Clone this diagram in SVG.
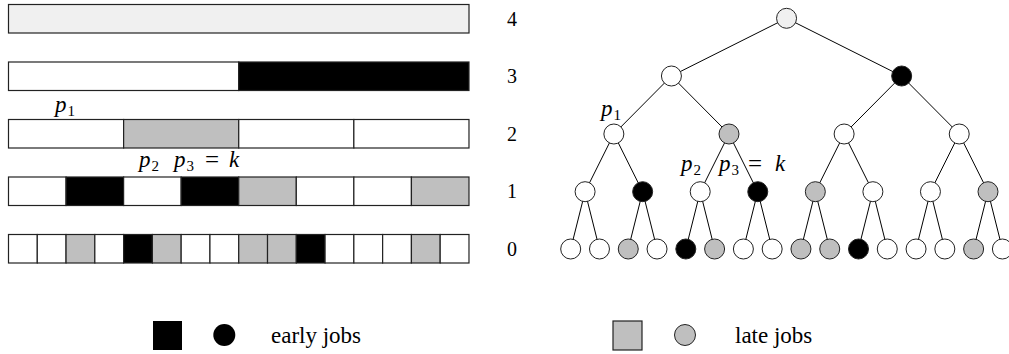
<svg xmlns="http://www.w3.org/2000/svg" width="1009" height="354" viewBox="0 0 1009 354">
<style>
.c{stroke:#222;stroke-width:1.2}
.w{fill:#fff}
.g{fill:#bfbfbf}
.b{fill:#000}
.l{fill:#f0f0f0}
.n{stroke:#222;stroke-width:1}
.e{stroke:#000;stroke-width:1;fill:none}
.num{font-family:"Liberation Serif","Times New Roman",serif;font-size:20px;fill:#000;text-anchor:middle}
.m{font-family:"Liberation Serif","Times New Roman",serif;font-style:italic;font-size:23px;fill:#000}
.s{font-family:"Liberation Serif","Times New Roman",serif;font-style:normal;font-size:15px;fill:#000}
.eq{font-family:"Liberation Serif","Times New Roman",serif;font-size:25px;fill:#000}
.leg{font-family:"Liberation Serif","Times New Roman",serif;font-size:23px;fill:#000}
</style>
<g id="bar4">
<rect class="c l" x="8.5" y="4.5" width="460.5" height="28.5"/>
</g>
<g id="bar3">
<rect class="c w" x="8.5" y="62" width="230.24" height="28.5"/>
<rect class="c b" x="238.74" y="62" width="230.24" height="28.5"/>
</g>
<g id="bar2">
<rect class="c w" x="8.5" y="119.5" width="115.12" height="28.5"/>
<rect class="c g" x="123.62" y="119.5" width="115.12" height="28.5"/>
<rect class="c w" x="238.74" y="119.5" width="115.12" height="28.5"/>
<rect class="c w" x="353.86" y="119.5" width="115.12" height="28.5"/>
</g>
<g id="bar1">
<rect class="c w" x="8.5" y="177" width="57.56" height="28.5"/>
<rect class="c b" x="66.06" y="177" width="57.56" height="28.5"/>
<rect class="c w" x="123.62" y="177" width="57.56" height="28.5"/>
<rect class="c b" x="181.18" y="177" width="57.56" height="28.5"/>
<rect class="c g" x="238.74" y="177" width="57.56" height="28.5"/>
<rect class="c w" x="296.3" y="177" width="57.56" height="28.5"/>
<rect class="c w" x="353.86" y="177" width="57.56" height="28.5"/>
<rect class="c g" x="411.42" y="177" width="57.56" height="28.5"/>
</g>
<g id="bar0">
<rect class="c w" x="8.5" y="234.5" width="28.78" height="28.5"/>
<rect class="c w" x="37.28" y="234.5" width="28.78" height="28.5"/>
<rect class="c g" x="66.06" y="234.5" width="28.78" height="28.5"/>
<rect class="c w" x="94.84" y="234.5" width="28.78" height="28.5"/>
<rect class="c b" x="123.62" y="234.5" width="28.78" height="28.5"/>
<rect class="c g" x="152.4" y="234.5" width="28.78" height="28.5"/>
<rect class="c w" x="181.18" y="234.5" width="28.78" height="28.5"/>
<rect class="c w" x="209.96" y="234.5" width="28.78" height="28.5"/>
<rect class="c g" x="238.74" y="234.5" width="28.78" height="28.5"/>
<rect class="c g" x="267.52" y="234.5" width="28.78" height="28.5"/>
<rect class="c b" x="296.3" y="234.5" width="28.78" height="28.5"/>
<rect class="c w" x="325.08" y="234.5" width="28.78" height="28.5"/>
<rect class="c w" x="353.86" y="234.5" width="28.78" height="28.5"/>
<rect class="c w" x="382.64" y="234.5" width="28.78" height="28.5"/>
<rect class="c g" x="411.42" y="234.5" width="28.78" height="28.5"/>
<rect class="c w" x="440.2" y="234.5" width="28.78" height="28.5"/>
</g>
<g id="levels">
<text class="num" x="512" y="25.5">4</text>
<text class="num" x="512" y="83">3</text>
<text class="num" x="512" y="140.5">2</text>
<text class="num" x="512" y="198">1</text>
<text class="num" x="512" y="255.5">0</text>
</g>
<g id="bar-labels">
<text class="m" x="55" y="112">p<tspan class="s" dx="1" dy="4">1</tspan></text>
<text class="m" x="139" y="167">p<tspan class="s" dx="1" dy="4">2</tspan></text>
<text class="m" x="174" y="167">p<tspan class="s" dx="1" dy="4">3</tspan></text>
<text class="eq" x="205" y="168">=</text>
<text class="m" x="229" y="167">k</text>
</g>
<g id="connectors">
<line class="e" x1="786.55" y1="18.3" x2="671.43" y2="76"/>
<line class="e" x1="786.55" y1="18.3" x2="901.67" y2="76"/>
<line class="e" x1="671.43" y1="76" x2="613.87" y2="134"/>
<line class="e" x1="671.43" y1="76" x2="728.99" y2="134"/>
<line class="e" x1="901.67" y1="76" x2="844.11" y2="134"/>
<line class="e" x1="901.67" y1="76" x2="959.23" y2="134"/>
<line class="e" x1="613.87" y1="134" x2="585.09" y2="191.7"/>
<line class="e" x1="613.87" y1="134" x2="642.65" y2="191.7"/>
<line class="e" x1="728.99" y1="134" x2="700.21" y2="191.7"/>
<line class="e" x1="728.99" y1="134" x2="757.77" y2="191.7"/>
<line class="e" x1="844.11" y1="134" x2="815.33" y2="191.7"/>
<line class="e" x1="844.11" y1="134" x2="872.89" y2="191.7"/>
<line class="e" x1="959.23" y1="134" x2="930.45" y2="191.7"/>
<line class="e" x1="959.23" y1="134" x2="988.01" y2="191.7"/>
<line class="e" x1="585.09" y1="191.7" x2="570.7" y2="249"/>
<line class="e" x1="585.09" y1="191.7" x2="599.48" y2="249"/>
<line class="e" x1="642.65" y1="191.7" x2="628.26" y2="249"/>
<line class="e" x1="642.65" y1="191.7" x2="657.04" y2="249"/>
<line class="e" x1="700.21" y1="191.7" x2="685.82" y2="249"/>
<line class="e" x1="700.21" y1="191.7" x2="714.6" y2="249"/>
<line class="e" x1="757.77" y1="191.7" x2="743.38" y2="249"/>
<line class="e" x1="757.77" y1="191.7" x2="772.16" y2="249"/>
<line class="e" x1="815.33" y1="191.7" x2="800.94" y2="249"/>
<line class="e" x1="815.33" y1="191.7" x2="829.72" y2="249"/>
<line class="e" x1="872.89" y1="191.7" x2="858.5" y2="249"/>
<line class="e" x1="872.89" y1="191.7" x2="887.28" y2="249"/>
<line class="e" x1="930.45" y1="191.7" x2="916.06" y2="249"/>
<line class="e" x1="930.45" y1="191.7" x2="944.84" y2="249"/>
<line class="e" x1="988.01" y1="191.7" x2="973.62" y2="249"/>
<line class="e" x1="988.01" y1="191.7" x2="1002.4" y2="249"/>
</g>
<g id="n-root"><circle class="n l" cx="786.55" cy="18.3" r="10"/></g>
<g id="n3-0"><circle class="n w" cx="671.43" cy="76" r="10"/></g>
<g id="n3-1"><circle class="n b" cx="901.67" cy="76" r="10"/></g>
<g id="n2-0"><circle class="n w" cx="613.87" cy="134" r="10"/></g>
<g id="n2-1"><circle class="n g" cx="728.99" cy="134" r="10"/></g>
<g id="n2-2"><circle class="n w" cx="844.11" cy="134" r="10"/></g>
<g id="n2-3"><circle class="n w" cx="959.23" cy="134" r="10"/></g>
<g id="n1-0"><circle class="n w" cx="585.09" cy="191.7" r="10"/></g>
<g id="n1-1"><circle class="n b" cx="642.65" cy="191.7" r="10"/></g>
<g id="n1-2"><circle class="n w" cx="700.21" cy="191.7" r="10"/></g>
<g id="n1-3"><circle class="n b" cx="757.77" cy="191.7" r="10"/></g>
<g id="n1-4"><circle class="n g" cx="815.33" cy="191.7" r="10"/></g>
<g id="n1-5"><circle class="n w" cx="872.89" cy="191.7" r="10"/></g>
<g id="n1-6"><circle class="n w" cx="930.45" cy="191.7" r="10"/></g>
<g id="n1-7"><circle class="n g" cx="988.01" cy="191.7" r="10"/></g>
<g id="n0-0"><circle class="n w" cx="570.7" cy="249" r="10"/></g>
<g id="n0-1"><circle class="n w" cx="599.48" cy="249" r="10"/></g>
<g id="n0-2"><circle class="n g" cx="628.26" cy="249" r="10"/></g>
<g id="n0-3"><circle class="n w" cx="657.04" cy="249" r="10"/></g>
<g id="n0-4"><circle class="n b" cx="685.82" cy="249" r="10"/></g>
<g id="n0-5"><circle class="n g" cx="714.6" cy="249" r="10"/></g>
<g id="n0-6"><circle class="n w" cx="743.38" cy="249" r="10"/></g>
<g id="n0-7"><circle class="n w" cx="772.16" cy="249" r="10"/></g>
<g id="n0-8"><circle class="n g" cx="800.94" cy="249" r="10"/></g>
<g id="n0-9"><circle class="n g" cx="829.72" cy="249" r="10"/></g>
<g id="n0-10"><circle class="n b" cx="858.5" cy="249" r="10"/></g>
<g id="n0-11"><circle class="n w" cx="887.28" cy="249" r="10"/></g>
<g id="n0-12"><circle class="n w" cx="916.06" cy="249" r="10"/></g>
<g id="n0-13"><circle class="n w" cx="944.84" cy="249" r="10"/></g>
<g id="n0-14"><circle class="n g" cx="973.62" cy="249" r="10"/></g>
<g id="n0-15"><circle class="n w" cx="1002.4" cy="249" r="10"/></g>
<g id="tree-labels">
<text class="m" x="601" y="115.5">p<tspan class="s" dx="1" dy="4">1</tspan></text>
<text class="m" x="681" y="171">p<tspan class="s" dx="1" dy="4">2</tspan></text>
<text class="m" x="719" y="171">p<tspan class="s" dx="1" dy="4">3</tspan></text>
<text class="eq" x="748" y="172">=</text>
<text class="m" x="775" y="171">k</text>
</g>
<g id="legend-early">
<rect class="b" x="153" y="321" width="29" height="29"/>
<circle class="b" cx="224.3" cy="335" r="11"/>
<text class="leg" x="271" y="342.5">early jobs</text>
</g>
<g id="legend-late">
<rect class="c g" x="613" y="321" width="29" height="29"/>
<circle class="n g" cx="685" cy="335" r="10.5"/>
<text class="leg" x="735" y="342.5">late jobs</text>
</g>
</svg>
